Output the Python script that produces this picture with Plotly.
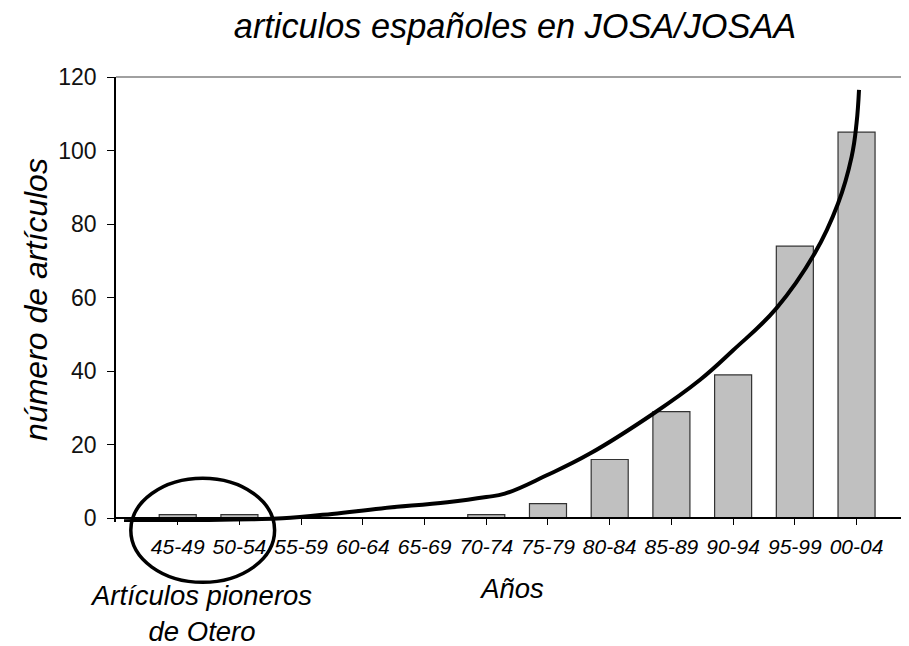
import plotly.graph_objects as go

# ---- data ----
categories = ["45-49", "50-54", "55-59", "60-64", "65-69", "70-74",
              "75-79", "80-84", "85-89", "90-94", "95-99", "00-04"]
articles = [1, 1, 0, 0, 0, 1, 4, 16, 29, 39, 74, 105]

# hand-drawn trend curve (x in category positions, y in articles)
trend_x = [-0.87, -0.3, 0.5, 1.2, 1.7, 2.5, 3.3, 4.37, 5.0, 5.3,
           5.98, 6.68, 7.71, 8.46, 9.0, 9.70, 10.32, 10.70, 10.92, 11.0, 11.04]
trend_y = [-0.8, -0.6, -0.45, -0.25, 0.0, 1.2, 2.7, 4.4, 5.8, 6.7,
           11.7, 17.6, 28.5, 37.6, 45.7, 57.1, 72.0, 85.6, 98.3, 107.4, 116.5]

# ellipse around the pioneering articles (data units)
ell_x = [-0.76, 1.57]
ell_y = [-17.4, 10.9]

y_ticks = [0, 20, 40, 60, 80, 100, 120]
x_range = [-1, 11.85]
y_range = [-1, 120]

FONT = "Liberation Sans, Arial, sans-serif"

# the page body has an 8px default margin; size the figure to fit the window
PAGE_OFF = 8
FIG_W, FIG_H = 909 - PAGE_OFF, 646 - PAGE_OFF

x_pos = list(range(len(categories)))

fig = go.Figure()
fig.add_trace(go.Bar(
    x=x_pos, y=articles, width=0.6,
    marker=dict(color="#c0c0c0", line=dict(color="#333333", width=1.2)),
    showlegend=False,
))
fig.add_trace(go.Scatter(
    x=trend_x, y=trend_y, mode="lines",
    line=dict(color="black", width=4, shape="spline", smoothing=1.2),
    showlegend=False, cliponaxis=False,
))


def xdom(v):
    return (v - x_range[0]) / (x_range[1] - x_range[0])


def ydom(v):
    return (v - y_range[0]) / (y_range[1] - y_range[0])


fig.add_shape(type="circle", xref="x domain", yref="y domain",
              x0=xdom(ell_x[0]), x1=xdom(ell_x[1]),
              y0=ydom(ell_y[0]), y1=ydom(ell_y[1]),
              line=dict(color="black", width=3.5))
# top border of the plot area
fig.add_shape(type="line", xref="x domain", yref="y domain",
              x0=0, x1=1, y0=ydom(120), y1=ydom(120),
              line=dict(color="#808080", width=1.6))

fig.add_annotation(text="Artículos pioneros<br>de Otero",
                   xref="x", x=0.37, yref="y domain", y=-0.205,
                   xanchor="center", yanchor="middle", showarrow=False,
                   font=dict(family=FONT, size=27.5, color="black", style="italic"))

fig.update_layout(
    width=FIG_W, height=FIG_H,
    margin=dict(l=116 - PAGE_OFF, r=0, t=77 - PAGE_OFF, b=124, autoexpand=False),
    plot_bgcolor="white", paper_bgcolor="white",
    title=dict(text="articulos españoles en JOSA/JOSAA",
               xref="container", x=507 / FIG_W, xanchor="center",
               yref="container", y=1 - 17.5 / FIG_H, yanchor="middle",
               font=dict(family=FONT, size=34.3, color="black", style="italic")),
    bargap=0.4,
)
fig.update_xaxes(
    range=x_range, tickmode="array", tickvals=x_pos, ticktext=categories,
    ticks="outside", ticklen=6, tickcolor="black", tickwidth=1,
    showline=True, linecolor="black", linewidth=1.5,
    showgrid=False, zeroline=False, automargin=False,
    anchor="free", position=ydom(0),
    tickfont=dict(family=FONT, size=21, color="black", style="italic"),
    ticklabelstandoff=4,
    title=dict(text="Años", standoff=20,
               font=dict(family=FONT, size=27.5, color="black", style="italic")),
)
fig.update_yaxes(
    range=y_range, tickmode="array", tickvals=y_ticks,
    ticks="outside", ticklen=7, tickcolor="black", tickwidth=1,
    showline=True, linecolor="black", linewidth=1.5,
    showgrid=False, zeroline=False, automargin=False,
    tickfont=dict(family=FONT, size=23, color="#111111"),
    ticklabelstandoff=6,
    title=dict(text="número de artículos", standoff=1,
               font=dict(family=FONT, size=32, color="black", style="italic")),
)

fig.write_html("out.html")
